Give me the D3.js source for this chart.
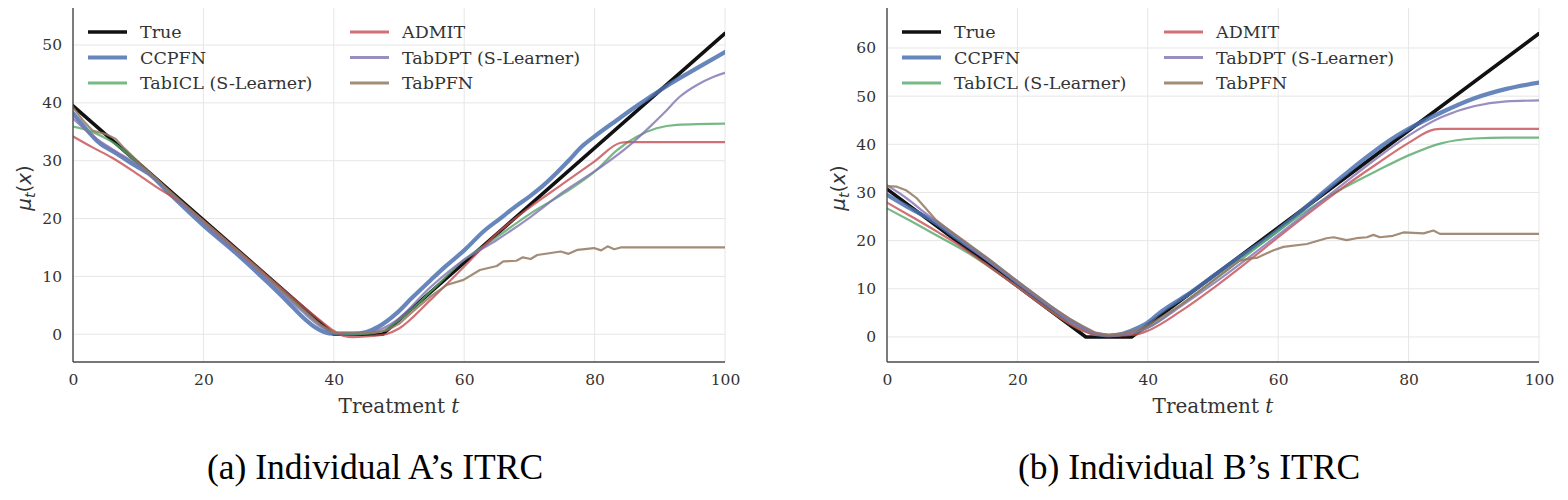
<!DOCTYPE html>
<html>
<head>
<meta charset="utf-8">
<script src="https://cdn.jsdelivr.net/npm/d3@7"></script>
<style>
  html, body { margin: 0; padding: 0; background: #fff; }
  svg { display: block; }
</style>
</head>
<body>
<svg id="fig" width="1568" height="500"></svg>
<script>
// ---------------- DATA ----------------
const seriesNames = ["True", "CCPFN", "TabICL (S-Learner)", "ADMIT", "TabDPT (S-Learner)", "TabPFN"];
const xTicks = [0, 20, 40, 60, 80, 100];
const yTicksA = [0, 10, 20, 30, 40, 50];
const yTicksB = [0, 10, 20, 30, 40, 50, 60];
const captions = ["(a) Individual A\u2019s ITRC", "(b) Individual B\u2019s ITRC"];

// Panel A: [treatment t, mu_t(x)]
const trueA = [[0,39.5],[40,0],[47.5,0],[100,52]];
const ccpfnA = [[0,38.2],[2,35.5],[4,33.1],[6.6,31.3],[9,29.5],[11.7,27.7],[15,24.1],[20,18.8],[25,14],[30,8.8],[33,5.5],[35,3.2],[37,1.3],[38.5,0.4],[40,0.1],[43,0.1],[45,0.4],[47,1.4],[49.6,3.6],[52,6.3],[54.8,9.3],[57,11.6],[60,14.5],[63,17.8],[65.5,20],[68,22.2],[70,23.8],[72,25.6],[74,27.7],[76,30],[78,32.4],[80,34.2],[83.4,37],[86,39.1],[88.5,41],[91.6,43.3],[95.7,46],[100,48.8]];
const ticlA = [[0,35.9],[2.4,35.2],[4.5,34.2],[6.6,32.8],[8.5,31],[10,29.4],[13,26.4],[16,23.3],[20,19.3],[25,14.5],[30,9.6],[35,4.4],[38,1.6],[40,0.2],[45,0.1],[47,0.4],[49.6,2.1],[54.8,7.3],[59.9,12.8],[65,16.8],[70.2,20.9],[75.2,24.3],[80.3,28.4],[83.4,31.8],[86.4,34.1],[89.5,35.6],[92.6,36.2],[100,36.4]];
const admitA = [[0,34.2],[3,32.3],[6,30.5],[10,27.6],[13,25.3],[16,23.2],[20,19.6],[25,14.8],[30,9.9],[35,5.1],[38,2.3],[40,0.6],[41.5,-0.3],[43,-0.5],[46,-0.3],[48,0],[50,1],[54.8,5.9],[60,11.7],[65,17.4],[70,21.9],[75,25.9],[80,29.9],[84,33.1],[85,33.2],[100,33.2]];
const dptA = [[0,37.3],[3,34.3],[6,32],[10,29.2],[13,26.4],[16,23.4],[20,19.2],[25,14.3],[30,9.3],[35,4.1],[38,1.3],[40,0.2],[45,0.3],[47,0.8],[49.6,2.4],[54.8,8.1],[59.9,12.8],[65,16.3],[70.2,20.3],[75.2,24.6],[80.3,28.4],[85.4,32.7],[88.5,35.9],[90.6,38.2],[93.1,41.1],[95.7,43.1],[98,44.4],[100,45.2]];
const pfnA = [[0,39.2],[1.5,37],[3,35.2],[5,34.6],[6.5,33.8],[8,32],[10,29.8],[12,27.7],[15,24.6],[20,19.6],[25,14.7],[30,9.7],[35,4.6],[38,1.6],[40,0.3],[45,0.2],[48,0.6],[50,1.8],[52,3.8],[54.8,6.5],[57.3,8.5],[59.9,9.4],[62.4,11.1],[65,11.8],[66,12.6],[68,12.7],[69,13.3],[70.2,13],[71.2,13.7],[74.8,14.3],[76,13.9],[77.4,14.6],[79.9,14.9],[81,14.5],[82,15.2],[83,14.7],[84,15],[100,15]];

// Panel B
const trueB = [[0,30.7],[30.5,0],[37.5,0],[100,63]];
const ccpfnB = [[0,29.5],[3,27.1],[6,24.9],[8,23.2],[10,21.2],[12,19.3],[15,16.5],[18,13.4],[20,11.3],[25,6.3],[28,3.5],[30,1.9],[32,0.6],[34,0.3],[36,0.6],[38,1.6],[40,3],[42,5.2],[44,7],[46,8.7],[50,12.6],[54,16.5],[58,20.2],[62,24.4],[66,29],[70,33.5],[74,37.8],[78,41.6],[80,43.2],[85,46.6],[90,49.5],[95,51.5],[100,52.8]];
const ticlB = [[0,26.7],[4,23.8],[8,20.8],[12,17.8],[15,15.2],[20,10.4],[25,5.5],[28,2.8],[30,1.4],[32,0.5],[35,0.3],[38,0.8],[40,1.9],[45,6.6],[50,11.6],[55,16.8],[60,22],[65,26.8],[68,29.4],[70,30.9],[75,34.4],[80,37.7],[85,40.2],[90,41.2],[95,41.4],[100,41.4]];
const admitB = [[0,27.9],[4,24.8],[8,21.6],[12,18.2],[15,15.3],[20,10.4],[25,5.4],[28,2.7],[30,1.3],[32,0.5],[35,0.3],[38,0.5],[40,1.3],[45,5.3],[50,10.1],[55,15.3],[60,20.7],[65,26],[70,31.1],[75,35.8],[80,40.3],[84,43.1],[85,43.2],[100,43.2]];
const dptB = [[0,31.5],[3,28.8],[6,25.6],[9,22.7],[12,19.6],[15,16.4],[20,11.3],[25,6.2],[28,3.4],[30,1.9],[32,0.7],[35,0.3],[38,1],[40,1.9],[45,6.3],[50,11],[55,16],[60,21.2],[65,26.5],[70,31.8],[75,37],[80,41.8],[85,45.6],[90,47.9],[95,48.9],[100,49.1]];
const pfnB = [[0,31.3],[1.5,31.2],[3,30.4],[4.5,28.9],[6,26.6],[7.5,24.3],[9,22.7],[12,19.8],[15,16.8],[20,11.6],[25,6.5],[28,3.8],[30,2.3],[32,0.9],[34,0.4],[36,0.7],[38,1.3],[40,2.3],[45,6.6],[50,11.7],[54,15.8],[55.7,16.3],[56.7,16.4],[58,17.2],[59.3,18],[60.8,18.7],[64.4,19.3],[67.4,20.5],[68.5,20.7],[70.5,20.1],[72,20.5],[73.6,20.7],[74.6,21.2],[75.6,20.7],[77.6,21],[79.2,21.7],[82.3,21.5],[83.8,22.1],[84.8,21.4],[100,21.4]];

// ---------------- STYLE ----------------
const colors = ["#111111", "#4C72B0", "#55A868", "#C44E52", "#8172B2", "#937860"];
const widths = [3.6, 4.2, 2.2, 2.2, 2.2, 2.2];
const opac = [1, 0.85, 0.8, 0.8, 0.8, 0.85];
const curves = [d3.curveLinear, d3.curveMonotoneX, d3.curveMonotoneX, d3.curveMonotoneX, d3.curveMonotoneX, d3.curveLinear];

const svg = d3.select("#fig");
const serif = "'DejaVu Serif', serif";

function panel(opts) {
  const {left, right, top, bottom, yDomain, yTicks, data, caption, capX} = opts;
  const x = d3.scaleLinear().domain([0, 100]).range([left, right]);
  const y = d3.scaleLinear().domain(yDomain).range([bottom, top]);
  const g = svg.append("g");

  // grid
  g.append("g").selectAll("line").data(xTicks).join("line")
    .attr("x1", d => x(d)).attr("x2", d => x(d)).attr("y1", top).attr("y2", bottom)
    .attr("stroke", "#e6e6e6").attr("stroke-width", 1);
  g.append("g").selectAll("line").data(yTicks).join("line")
    .attr("x1", left).attr("x2", right).attr("y1", d => y(d)).attr("y2", d => y(d))
    .attr("stroke", "#e6e6e6").attr("stroke-width", 1);

  // axes (tick labels only)
  const xAxis = g.append("g").attr("transform", `translate(0,${bottom})`)
    .call(d3.axisBottom(x).tickValues(xTicks).tickSize(0).tickPadding(12).tickFormat(d3.format("d")));
  const yAxis = g.append("g").attr("transform", `translate(${left},0)`)
    .call(d3.axisLeft(y).tickValues(yTicks).tickSize(0).tickPadding(11).tickFormat(d3.format("d")));
  [xAxis, yAxis].forEach(a => {
    a.select(".domain").remove();
    a.selectAll("text").attr("font-family", serif).attr("font-size", 15.5).attr("fill", "#333");
  });

  // lines
  const clipId = "clip" + left;
  svg.append("clipPath").attr("id", clipId).append("rect")
    .attr("x", left).attr("y", top).attr("width", right - left).attr("height", bottom - top);
  const lg = g.append("g").attr("clip-path", `url(#${clipId})`);
  data.forEach((ser, i) => {
    const line = d3.line().x(d => x(d[0])).y(d => y(d[1])).curve(curves[i]);
    lg.append("path").datum(ser).attr("d", line)
      .attr("fill", "none").attr("stroke", colors[i]).attr("stroke-width", widths[i])
      .attr("stroke-opacity", opac[i]).attr("stroke-linejoin", "round").attr("stroke-linecap", "round");
  });

  // spines
  g.append("line").attr("x1", left).attr("x2", left).attr("y1", top).attr("y2", bottom)
    .attr("stroke", "#4a4a4a").attr("stroke-width", 1.4);
  g.append("line").attr("x1", left).attr("x2", right).attr("y1", bottom).attr("y2", bottom)
    .attr("stroke", "#4a4a4a").attr("stroke-width", 1.4);

  // legend
  const rows = [32, 57.5, 83];
  seriesNames.forEach((name, i) => {
    const col = Math.floor(i / 3), row = i % 3;
    const lx = left + 15 + col * 262;
    const ly = rows[row];
    g.append("line").attr("x1", lx).attr("x2", lx + 39).attr("y1", ly).attr("y2", ly)
      .attr("stroke", colors[i]).attr("stroke-width", i === 0 ? 3.6 : (i === 1 ? 4 : 2.8))
      .attr("stroke-opacity", opac[i]);
    g.append("text").attr("x", lx + 52).attr("y", ly).attr("dy", "0.35em")
      .attr("font-family", serif).attr("font-size", 17.5).attr("fill", "#333").text(name);
  });

  // x label
  const xl = g.append("text").attr("x", (left + right) / 2).attr("y", 413)
    .attr("text-anchor", "middle").attr("font-family", serif).attr("font-size", 20).attr("fill", "#333");
  xl.append("tspan").text("Treatment ");
  xl.append("tspan").attr("font-style", "italic").text("t");

  // y label
  const yl = g.append("text").attr("transform", `translate(${left - 42},${188}) rotate(-90)`)
    .attr("text-anchor", "middle").attr("font-family", "'DejaVu Sans', sans-serif").attr("font-size", 20).attr("fill", "#333");
  yl.append("tspan").attr("font-style", "italic").text("\u03bc");
  yl.append("tspan").attr("font-style", "italic").attr("font-size", 14).attr("dy", 4).text("t");
  yl.append("tspan").attr("dy", -4).text("(");
  yl.append("tspan").attr("font-style", "italic").text("x");
  yl.append("tspan").text(")");

  // caption
  svg.append("text").attr("x", capX).attr("y", 479).attr("text-anchor", "middle")
    .attr("font-family", "'Liberation Serif', 'Times New Roman', Times, serif").attr("font-size", 35.5)
    .attr("fill", "#000").text(caption);
}

panel({left: 73, right: 725, top: 8, bottom: 362, yDomain: [-4.8, 56.4], yTicks: yTicksA,
  data: [trueA, ccpfnA, ticlA, admitA, dptA, pfnA], caption: captions[0], capX: 375});
panel({left: 887, right: 1539, top: 8, bottom: 362, yDomain: [-5.2, 68.3], yTicks: yTicksB,
  data: [trueB, ccpfnB, ticlB, admitB, dptB, pfnB], caption: captions[1], capX: 1189});
</script>
</body>
</html>
